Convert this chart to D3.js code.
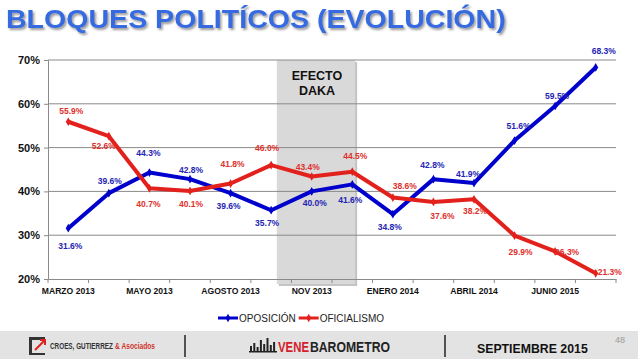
<!DOCTYPE html>
<html>
<head>
<meta charset="utf-8">
<script src="https://cdn.jsdelivr.net/npm/d3@7"></script>
<style>
  body { margin: 0; background: #fff; }
  svg { display: block; font-family: "Liberation Sans", Arial, sans-serif; }
</style>
</head>
<body>
<svg id="chart" width="638" height="359"></svg>
<script>
// categories (only every second one is labelled on the axis)
const categories = ['MARZO 2013', 'ABRIL 2013', 'MAYO 2013', 'JULIO 2013', 'AGOSTO 2013', 'SEPT 2013',
  'NOV 2013', 'DIC 2013', 'ENERO 2014', 'FEB 2014', 'ABRIL 2014', 'DIC 2014', 'JUNIO 2015', 'AGOSTO 2015'];
const oposicion = [31.6, 39.6, 44.3, 42.8, 39.6, 35.7, 40.0, 41.6, 34.8, 42.8, 41.9, 51.6, 59.5, 68.3];
const oficialismo = [55.9, 52.6, 40.7, 40.1, 41.8, 46.0, 43.4, 44.5, 38.6, 37.6, 38.2, 29.9, 26.3, 21.3];
const yTicks = [20, 30, 40, 50, 60, 70];
const shadeCats = ['NOV 2013', 'DIC 2013'];

// label placement (pixel nudges from each point)
const opoLabelOffset = [[2, 18], [1, -12], [-1, -20], [1, -9], [-2, 13], [-4, 13], [3, 12],
  [-2, 16], [-3, 13], [-1, -14], [-6, -9], [4, -15], [2, -10], [8, -16]];
const ofiLabelOffset = [[3, -11], [-5, 10], [-1, 16], [1, 13], [2, -20], [-4, -17], [-4, -10],
  [3, -16], [12, -12], [9, 14], [1, 12], [6, 16], [12, 1], [14, -1]];

const BLUE = '#0000cc';
const BLUE_TEXT = '#2424b4';
const RED = '#e3211c';
const RED_TEXT = '#e0302c';

const margin = {left: 48, right: 22, top: 60, bottom: 80};
const width = 638, height = 359;

const svg = d3.select('#chart');

// squeeze a text horizontally so it spans the given width
function fitText(sel, x0, y0, w) {
  const natural = sel.node().getComputedTextLength();
  sel.attr('x', 0).attr('y', 0)
      .attr('transform', `translate(${x0},${y0}) scale(${w / natural},1)`);
  return sel;
}

// title
const defs = svg.append('defs');
const shadow = defs.append('filter').attr('id', 'shadow')
    .attr('x', '-5%').attr('y', '-20%').attr('width', '110%').attr('height', '150%');
shadow.append('feDropShadow')
    .attr('dx', 1.5).attr('dy', 2).attr('stdDeviation', 1)
    .attr('flood-color', '#555').attr('flood-opacity', 0.6);

fitText(svg.append('text')
    .attr('fill', '#356be0')
    .attr('font-size', 25.5)
    .attr('font-weight', 'bold')
    .attr('filter', 'url(#shadow)')
    .text('BLOQUES POLITÍCOS (EVOLUCIÓN)'), 6, 28, 500);

const x = d3.scaleBand()
    .domain(categories)
    .range([margin.left, width - margin.right])
    .padding(0);
const cx = (c) => x(c) + x.bandwidth() / 2;

const y = d3.scaleLinear()
    .domain([20, 70])
    .range([height - margin.bottom, margin.top]);

// EFECTO DAKA shade
const shadeLeft = cx(shadeCats[0]) - x.bandwidth() * 0.86;
const shadeRight = cx(shadeCats[1]) + x.bandwidth() * 0.07;
svg.append('rect')
    .attr('x', shadeLeft + 2).attr('y', y(70) + 2)
    .attr('width', shadeRight - shadeLeft).attr('height', y(20) - y(70) + 5)
    .attr('fill', '#c4c4c4');
svg.append('rect')
    .attr('x', shadeLeft).attr('y', y(70))
    .attr('width', shadeRight - shadeLeft).attr('height', y(20) - y(70) + 5)
    .attr('fill', '#d9d9d9');
const dakaText = svg.append('text')
    .attr('text-anchor', 'middle')
    .attr('font-size', 12.5)
    .attr('font-weight', 'bold')
    .attr('fill', '#111');
dakaText.append('tspan').attr('x', (shadeLeft + shadeRight) / 2 + 1).attr('y', 80).text('EFECTO');
dakaText.append('tspan').attr('x', (shadeLeft + shadeRight) / 2 + 1).attr('y', 95).text('DAKA');

// grid
svg.append('g')
    .selectAll('line')
    .data(yTicks.slice(1))
    .join('line')
    .attr('x1', margin.left).attr('x2', width - margin.right)
    .attr('y1', (d) => y(d)).attr('y2', (d) => y(d))
    .attr('stroke', '#8a8a8a').attr('stroke-width', 1);

// y axis
const yAxis = svg.append('g')
    .attr('transform', `translate(${margin.left},0)`)
    .call(d3.axisLeft(y).tickValues(yTicks).tickSize(4).tickFormat((d) => d + '%'));
yAxis.select('.domain').attr('stroke', '#8a8a8a');
yAxis.selectAll('.tick line').attr('stroke', '#8a8a8a');
yAxis.selectAll('.tick text')
    .attr('font-family', '"Liberation Sans", Arial, sans-serif')
    .attr('font-size', 11).attr('font-weight', 'bold').attr('fill', '#111')
    .attr('x', -8);

// x axis: tick marks on band boundaries, labels on every second category
const xAxis = svg.append('g')
    .attr('transform', `translate(0,${y(20)})`)
    .call(d3.axisBottom(x)
        .tickValues(categories.filter((d, i) => i % 2 === 0))
        .tickSize(0).tickPadding(9));
xAxis.select('.domain').attr('stroke', '#8a8a8a');
xAxis.selectAll('.tick text')
    .attr('font-family', '"Liberation Sans", Arial, sans-serif')
    .attr('font-size', 8.6).attr('font-weight', 'bold').attr('fill', '#111');
xAxis.selectAll('.boundary')
    .data(categories.concat(['end']))
    .join('line')
    .attr('class', 'boundary')
    .attr('x1', (d, i) => margin.left + i * x.bandwidth())
    .attr('x2', (d, i) => margin.left + i * x.bandwidth())
    .attr('y1', 0).attr('y2', 4)
    .attr('stroke', '#8a8a8a');

// lines
const line = d3.line()
    .x((d, i) => cx(categories[i]))
    .y((d) => y(d));

const series = [
  {name: 'OPOSICIÓN', values: oposicion, color: BLUE, text: BLUE_TEXT, offsets: opoLabelOffset},
  {name: 'OFICIALISMO', values: oficialismo, color: RED, text: RED_TEXT, offsets: ofiLabelOffset}
];

series.forEach((s) => {
  svg.append('path')
      .datum(s.values)
      .attr('fill', 'none')
      .attr('stroke', s.color)
      .attr('stroke-width', 4)
      .attr('stroke-linejoin', 'round')
      .attr('d', line);

  svg.append('g')
      .selectAll('path')
      .data(s.values)
      .join('path')
      .attr('d', d3.symbol(d3.symbolDiamond, 22))
      .attr('transform', (d, i) => `translate(${cx(categories[i])},${y(d)})`)
      .attr('fill', s.color);

  svg.append('g')
      .selectAll('text')
      .data(s.values)
      .join('text')
      .attr('x', (d, i) => cx(categories[i]) + s.offsets[i][0])
      .attr('y', (d, i) => y(d) + s.offsets[i][1] + 3)
      .attr('text-anchor', 'middle')
      .attr('font-size', 8.5)
      .attr('font-weight', 'bold')
      .attr('fill', s.text)
      .text((d) => d.toFixed(1) + '%');
});

// legend
const legend = svg.append('g').attr('transform', 'translate(218,318)');
let lx = 0;
series.forEach((s) => {
  legend.append('line')
      .attr('x1', lx).attr('x2', lx + 20)
      .attr('y1', 0).attr('y2', 0)
      .attr('stroke', s.color).attr('stroke-width', 3);
  legend.append('path')
      .attr('d', d3.symbol(d3.symbolDiamond, 20))
      .attr('transform', `translate(${lx + 10},0)`)
      .attr('fill', s.color);
  const t = legend.append('text')
      .attr('x', lx + 21).attr('y', 3.5)
      .attr('font-size', 10)
      .attr('fill', '#222')
      .text(s.name);
  lx += 21 + t.node().getComputedTextLength() + 3;
});

// footer
const footer = svg.append('g');
footer.append('rect')
    .attr('x', 0).attr('y', 331).attr('width', width).attr('height', 28)
    .attr('fill', '#e3e3e3');

// croes logo
footer.append('path')
    .attr('d', 'M29,337 h16 v3 h-13 v13 h13 v2 h-16 z')
    .attr('fill', '#333');
footer.append('path')
    .attr('d', 'M35,350 L44,341 M40,340 h5 v5')
    .attr('stroke', '#d22').attr('stroke-width', 2).attr('fill', 'none');
fitText(footer.append('text')
    .attr('font-size', 9)
    .attr('font-weight', 'bold')
    .attr('fill', '#333')
    .text('CROES, GUTIERREZ'), 50, 349, 63);
fitText(footer.append('text')
    .attr('font-size', 9)
    .attr('font-weight', 'bold')
    .attr('fill', '#d2332b')
    .text('& Asociados'), 115, 349, 40);

footer.selectAll('.sep')
    .data([185, 445])
    .join('line')
    .attr('class', 'sep')
    .attr('x1', (d) => d).attr('x2', (d) => d)
    .attr('y1', 335).attr('y2', 357)
    .attr('stroke', '#222').attr('stroke-width', 1.5);

// venebarometro logo
const bars = [6, 9, 5, 12, 8, 14, 7, 10];
footer.selectAll('.bar')
    .data(bars)
    .join('rect')
    .attr('class', 'bar')
    .attr('x', (d, i) => 250 + i * 3.3)
    .attr('y', (d) => 352 - d)
    .attr('width', 2)
    .attr('height', (d) => d)
    .attr('fill', '#222');
footer.append('rect')
    .attr('x', 249).attr('y', 351).attr('width', 28).attr('height', 1.5).attr('fill', '#222');
fitText(footer.append('text')
    .attr('font-size', 14)
    .attr('font-weight', 'bold')
    .attr('fill', '#d4202a')
    .text('VENE'), 278, 352, 31);
fitText(footer.append('text')
    .attr('font-size', 14)
    .attr('font-weight', 'bold')
    .attr('fill', '#222')
    .text('BAROMETRO'), 310, 352, 80);

footer.append('text')
    .attr('x', 477).attr('y', 353)
    .attr('font-size', 12.3)
    .attr('font-weight', 'bold')
    .attr('fill', '#111')
    .text('SEPTIEMBRE 2015');

footer.append('text')
    .attr('x', 615).attr('y', 343)
    .attr('font-size', 9)
    .attr('fill', '#999')
    .text('48');
</script>
</body>
</html>
